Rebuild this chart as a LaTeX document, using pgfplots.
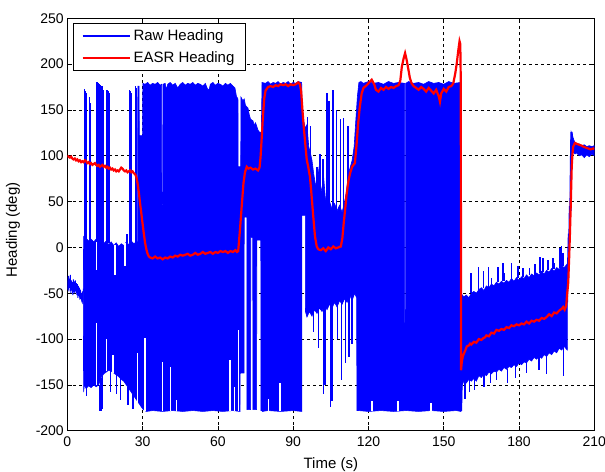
\documentclass[border=0pt]{standalone}
\usepackage{fontspec}
\setmainfont{Liberation Sans}
\usepackage{pgfplots}
\pgfplotsset{compat=1.18}
\begin{document}
\begin{tikzpicture}
\begin{axis}[
 scale only axis, width=527bp, height=412.4bp,
 xmin=0, xmax=210, ymin=-200, ymax=250,
 xtick={0,30,...,210}, ytick={-200,-150,...,250},
 grid=major, major grid style={black, dash pattern=on 3bp off 3bp, line width=0.7bp},
 axis line style={black, line width=0.8bp},
 tick align=inside, tick pos=both, major tick length=5bp, tick style={black, line width=0.7bp},
 /pgf/number format/assume math mode=true,
 ticklabel style={font=\fontsize{14bp}{16bp}\selectfont},
 xticklabel style={yshift=-3bp},
 label style={font=\fontsize{15bp}{18bp}\selectfont},
 xlabel={Time (s)}, ylabel={Heading (deg)},
 xlabel style={at={(axis description cs:0.5,0)}, anchor=north, yshift=-27bp, inner sep=0pt},
 ylabel style={at={(axis description cs:-0.103,0.487)}, anchor=center},
 legend style={at={(axis description cs:0.0114,0.988)}, anchor=north west, draw=black, line width=0.8bp, fill=white,
   font=\fontsize{15bp}{18bp}\selectfont, inner xsep=8bp, inner ysep=4bp, row sep=6bp, nodes={inner ysep=2bp, inner xsep=3bp}, cells={anchor=west}},
 legend image code/.code={\draw[#1] (0bp,0bp) -- (47bp,0bp);},
]
% region A noisy start
\addplot[blue, line width=1bp, forget plot] coordinates {(0,-36)(0.2,-46)(0.4,-31)(0.6,-48)(0.8,-34)(1.0,-44)(1.2,-30)(1.4,-50)(1.6,-36)(1.8,-47)(2.0,-38)(2.2,-52)(2.4,-35)(2.6,-49)(2.8,-37)(3.0,-50)(3.2,-36)(3.4,-48)(3.6,-39)(3.8,-52)(4.0,-40)(4.2,-55)(4.4,-42)(4.6,-53)(4.8,-44)(5.0,-57)(5.2,-46)(5.4,-56)(5.6,-50)(5.8,-60)(6.0,-48)(6.2,-62)(6.4,-45)};
% main raw heading envelope
\addplot[fill=blue, draw=blue, line width=0.6bp, forget plot] coordinates {
(6.4,-45)(6.5,12)(7.5,10)(8.5,7)(9.5,9)(10.5,6)(11.5,9)(12.5,5)(13.5,8)(14.5,4)(15.5,7)(16.5,3)(17.5,6)(18.5,2)(19.5,5)(20.5,1)(21.5,4)(22.5,2)(23.5,6)(24.5,3)(25.5,7)(26.5,4)(27.5,6)(28.0,6)(28.1,176)(28.6,176)(28.7,122)(30.0,122)(30.1,179)
(31,178)(32,180)(33,177)(34,179)(35,178)(36,180)(37,177)(37.6,178)(37.65,47)(38.05,47)(38.1,178)(39,179)(39.5,172)(40,178)(41,180)(42,177)(43,179)(44,174)(45,178)(46,180)(47,177)(48,179)(49,178)(50,180)(51,177)(52,179)(53,178)(54,176)(55,179)(56,172)(56.6,173)(57,178)(58,180)(59,177)(60,179)(61,178)(62,176)(63,179)(64,177)(65,179)(66,176)(66.8,174)(67.4,165)(68.0,162)(68.1,88)(69.1,88)(69.2,164)(70,160)(70.5,162)(71,155)(72,152)(72.5,145)(73,140)(74,138)(74.5,133)(75,136)(76,128)(76.5,126)(77.3,125)
(77.6,180)(79,179)(80,181)(81,178)(82,180)(83,179)(84,181)(85,178)(86,180)(87,179)(88,181)(89,178)(90,180)(91,179)(92,181)(93.4,180)
(93.5,136)(94.2,138)(94.8,130)(95.5,134)(96.2,110)(96.8,104)(97.5,95)(98.2,80)(98.8,70)(99.5,65)(100.2,85)(100.8,70)(101.5,60)(102.2,75)(102.8,55)(103.5,45)(104.5,50)(105.5,42)(106.5,48)(107.5,40)(108.5,46)(109.5,38)(110.5,50)(111.2,60)(112,80)(112.8,88)(113.5,95)(114.3,110)(115,140)(115.6,165)(116.2,180)
(117,181)(118,179)(120,181)(122,179)(124,180)(126,178)(128,181)(130,179)(132,180)(134.4,179)(134.45,-82)(134.8,-82)(134.85,179)(136,181)(138,179)(140,180)(142,178)(144,181)(146,179)(148,180)(150,178)(152,181)(154,179)(156.8,180)
(156.85,-50)(158,-54)(159,-52)(160,-55)(161,-50)(162,-48)(163,-50)(164,-46)(165,-44)(166,-47)(167,-42)(168,-44)(169,-40)(170,-42)(171,-38)(172,-40)(173,-37)(174,-39)(175,-36)(176,-38)(177,-34)(178,-37)(179,-33)(180,-36)(181,-32)(182,-34)(183,-30)(184,-33)(185,-29)(186,-31)(187,-28)(188,-30)(189,-26)(190,-29)(191,-25)(192,-27)(193,-23)(194,-26)(195,-22)(196,-24)(197,-20)(198,-22)(199.2,-18)
(199.3,-110)(199.2,-112)(198,-108)(197,-112)(196,-110)(195,-115)(194,-113)(193,-117)(192,-115)(191,-119)(190,-117)(189,-121)(188,-119)(187,-122)(186,-120)(185,-124)(184,-122)(183,-126)(182,-125)(181,-128)(180,-126)(179,-130)(178,-128)(177,-131)(176,-130)(175,-133)(174,-131)(173,-135)(172,-133)(171,-136)(170,-135)(169,-138)(168,-136)(167,-140)(166,-138)(165,-142)(164,-140)(163,-146)(162,-143)(161,-146)(160,-144)(159,-148)(158,-146)(157.4,-150)(157.2,-178)(156.8,-179)
(155,-178)(150,-179)(145,-178)(140,-179)(135,-178)(130,-179)(125,-178)(120,-179)(116,-178)(115.4,-178)
(115.3,-55)(114.5,-50)(113.5,-58)(112.5,-52)(111.5,-60)(110.5,-56)(109.5,-62)(108.5,-58)(107.5,-65)(106.5,-60)(105.5,-66)(104.5,-62)(103.5,-68)(102.5,-63)(101.5,-70)(100.5,-66)(99.5,-72)(98.5,-68)(97.5,-75)(96.5,-70)(95.5,-76)(94.9,-70)(94.85,35)(93.5,35)(93.45,-179)
(90,-178)(85,-179)(80,-178)(77.7,-179)
(77.6,-178)(77.15,-178)(77.1,8)(75.5,8)(75.45,-177)(73.95,-177)(73.9,11)(73.1,11)(73.05,-177)(71.6,-177)(71.55,33)(70.5,33)(70.45,-137)(68.9,-137)(68.8,-179)
(66,-178)(62,-179)(58,-178)(54,-179)(50,-178)(46,-179)(42,-178)(38,-179)(34,-178)(31.5,-179)(30.3,-177)
(29.5,-174)(28.5,-170)(27.5,-166)(26.5,-162)(25.5,-158)(24.5,-154)(23.5,-150)(22.5,-146)(21.5,-144)(20.5,-141)(19.5,-139)(18.5,-137)(17.5,-135)(16.5,-134)(15.5,-136)(14.5,-138)(13.5,-142)(12.5,-150)(11.5,-152)(10.5,-150)(9.5,-153)(8.5,-151)(7.5,-154)(6.8,-150)(6.5,-158)(6.4,-62)
} -- cycle;
% final segment band
\addplot[fill=blue, draw=blue, line width=0.6bp, forget plot] coordinates {(200.8,126)(201.5,120)(202.3,114)(203,112)(204,113)(205,111)(206,112)(207,110)(208,111)(209,110)(210,111)(210,100)(209,102)(208,99)(207,101)(206,98)(205,101)(204,100)(203,103)(202.3,102)(201.5,104)(200.8,110)} -- cycle;
\addplot[blue, line width=2.2bp, forget plot] coordinates {(199.1,-60)(199.3,-20)(199.5,-35)(199.7,-5)(199.9,15)(200.1,10)(200.3,45)(200.5,40)(200.7,90)(200.9,126)(201.2,118)};
% isolated spikes
\addplot[blue, line width=1.5bp, unbounded coords=jump, forget plot] coordinates {
(6.8,5)(6.8,173)(6.8,nan)(7.2,5)(7.2,171)(7.2,nan)(7.5,5)(7.5,168)(7.5,nan)(8.9,5)(8.9,164)(8.9,nan)(9.3,5)(9.3,158)(9.3,nan)
(11.8,5)(11.8,181)(11.8,nan)(12.1,5)(12.1,180)(12.1,nan)(12.4,5)(12.4,179)(12.4,nan)(12.7,5)(12.7,178)(12.7,nan)(13.0,5)(13.0,177)(13.0,nan)
(13.8,5)(13.8,176)(13.8,nan)(14.1,5)(14.1,175)(14.1,nan)(14.4,5)(14.4,172)(14.4,nan)(15.9,5)(15.9,172)(15.9,nan)(16.3,5)(16.3,171)(16.3,nan)(16.6,5)(16.6,169)(16.6,nan)
(23.8,5)(23.8,15)(23.8,nan)(24.8,5)(24.8,172)(24.8,nan)(25.1,5)(25.1,171)(25.1,nan)(25.4,5)(25.4,168)(25.4,nan)(27.1,5)(27.1,176)(27.1,nan)(27.6,5)(27.6,174)(27.6,nan)
(7.7,-150)(7.7,-162)(7.7,nan)(12.9,-150)(12.9,-178)(12.9,nan)(13.4,-142)(13.4,-178)(13.4,nan)(14.1,-140)(14.1,-176)(14.1,nan)
(17.2,-134)(17.2,-158)(17.2,nan)(19.6,-138)(19.6,-160)(19.6,nan)(21.2,-142)(21.2,-166)(21.2,nan)(24.1,-152)(24.1,-172)(24.1,nan)(26.1,-160)(26.1,-176)(26.1,nan)
(95.8,120)(95.8,142)(95.8,nan)(97.0,90)(97.0,132)(97.0,nan)(99.6,60)(99.6,88)(99.6,nan)(100.6,60)(100.6,102)(100.6,nan)(101.9,55)(101.9,96)(101.9,nan)
(103.5,40)(103.5,168)(103.5,nan)(104.3,40)(104.3,160)(104.3,nan)(105.9,40)(105.9,172)(105.9,nan)(107.3,40)(107.3,150)(107.3,nan)
(108.9,40)(108.9,140)(108.9,nan)(110.1,40)(110.1,141)(110.1,nan)(111.8,40)(111.8,132)(111.8,nan)
(98.1,-65)(98.1,-92)(98.1,nan)(100.1,-62)(100.1,-110)(100.1,nan)(102.0,-60)(102.0,-160)(102.0,nan)(102.7,-60)(102.7,-150)(102.7,nan)
(104.9,-60)(104.9,-174)(104.9,nan)(105.5,-60)(105.5,-168)(105.5,nan)(107.6,-62)(107.6,-100)(107.6,nan)(109.3,-60)(109.3,-145)(109.3,nan)
(110.8,-55)(110.8,-126)(110.8,nan)(112.3,-52)(112.3,-120)(112.3,nan)(113.5,-55)(113.5,-105)(113.5,nan)
(160.8,-50)(160.8,-28)(160.8,nan)(163.8,-48)(163.8,-21)(163.8,nan)(165.8,-44)(165.8,-26)(165.8,nan)(167.8,-44)(167.8,-21)(167.8,nan)
(169,-40)(169,-33)(169,nan)(171.7,-38)(171.7,-21)(171.7,nan)(173.7,-37)(173.7,-17)(173.7,nan)(174.3,-37)(174.3,-28)(174.3,nan)
(177.1,-34)(177.1,-17)(177.1,nan)(179.5,-33)(179.5,-20)(179.5,nan)(181.6,-32)(181.6,-22)(181.6,nan)(184.2,-30)(184.2,-22)(184.2,nan)(186.3,-30)(186.3,-18)(186.3,nan)(188.4,-28)(188.4,-10)(188.4,nan)
(189.6,-27)(189.6,-12)(189.6,nan)(191.5,-25)(191.5,-14)(191.5,nan)(193.6,-24)(193.6,-12)(193.6,nan)(194.1,-24)(194.1,-17)(194.1,nan)
(196.3,-22)(196.3,-1)(196.3,nan)(197.0,-21)(197.0,1)(197.0,nan)(197.6,-20)(197.6,-6)(197.6,nan)
(158.5,-146)(158.5,-165)(158.5,nan)(160.2,-144)(160.2,-158)(160.2,nan)(162.2,-143)(162.2,-156)(162.2,nan)(166,-138)(166,-152)(166,nan)
(168.7,-136)(168.7,-148)(168.7,nan)(171,-136)(171,-145)(171,nan)(175.5,-133)(175.5,-148)(175.5,nan)(178.5,-128)(178.5,-142)(178.5,nan)
(183,-126)(183,-137)(183,nan)(188,-119)(188,-134)(188,nan)(191,-119)(191,-138)(191,nan)(197.8,-110)(197.8,-140)
};
% gaps in the raw signal
\addplot[white, line width=1.5bp, unbounded coords=jump, forget plot] coordinates {
(11.7,-150)(11.7,-83)(11.7,nan)(15.6,-135)(15.6,-100)(15.6,nan)(18.3,-137)(18.3,-117)(18.3,nan)
(11.7,6)(11.7,-25)(11.7,nan)(19.0,3)(19.0,-30)(19.0,nan)(23.0,5)(23.0,-20)(23.0,nan)
(27.9,-170)(27.9,-115)(27.9,nan)(30.9,-179)(30.9,-99)(30.9,nan)(37.9,-179)(37.9,-125)(37.9,nan)(41.2,-179)(41.2,-130)(41.2,nan)
(43.6,-179)(43.6,-166)(43.6,nan)(64.9,-179)(64.9,-123)(64.9,nan)(66.6,-179)(66.6,-152)(66.6,nan)(68.2,-179)(68.2,-90)(68.2,nan)
(80.2,-179)(80.2,-165)(80.2,nan)(84.8,-179)(84.8,-148)(84.8,nan)(121.5,-179)(121.5,-168)(121.5,nan)(131.8,-179)(131.8,-168)(131.8,nan)(145,-179)(145,-170)
};
% EASR heading
\addplot[red, line width=2.2bp, forget plot] coordinates {
(0,100)(0.5,99)(1,98)(1.5,99)(2,97)(2.5,96)(3,97)(3.5,95)(4,96)(4.5,94)(5,95)(5.5,93)(6,94)(6.5,93)(7,95)(7.5,94)(8,92)(8.5,93)(9,91)(9.5,92)(10,90)(10.5,91)(11,92)(11.5,90)(12,89)(12.5,90)(13,88)(13.5,89)(14,90)(14.5,88)(15,89)(15.5,87)(16,88)(16.5,86)(17,87)(17.5,85)(18,86)(18.5,84)(19,85)(19.5,83)(20,84)(20.5,83)(21,85)(21.5,87)(22,86)(22.5,84)(23,83)(23.5,84)(24,82)(24.5,83)(25,84)(25.5,82)(26,83)(26.5,81)(27,80)(27.5,77)(28,70)(28.5,60)(29,48)(29.5,37)(30,26)(30.5,15)(31,5)(31.5,-2)(32,-7)(32.5,-10)(33,-11)(34,-12)(35,-10)(36,-12)(37,-11)(38,-13)(39,-11)(40,-12)(41,-10)(42,-11)(43,-9)(44,-10)(45,-8)(46,-9)(47,-8)(48,-7)(49,-9)(50,-8)(51,-6)(52,-8)(53,-7)(54,-5)(55,-7)(56,-6)(57,-5)(58,-7)(59,-5)(60,-6)(61,-4)(62,-5)(63,-4)(64,-6)(65,-4)(66,-5)(67,-3)(67.6,-5)(68.1,-4)(68.8,19)(69.5,45)(70.2,70)(70.8,82)(71.5,88)(72.2,86)(73,87)(74,85)(75,86)(76,84)(76.6,87)(77,98)(77.5,121)(78,145)(78.5,163)(79,171)(80,175)(81,176)(82,175)(83,177)(84,176)(85,178)(86,177)(87,178)(88,176)(89,178)(90,177)(91,178)(92,180)(92.7,178)(93.2,170)(93.7,150)(94.2,132)(94.8,114)(95.4,96)(96,88)(96.7,77)(97.3,58)(98,34)(98.7,12)(99.4,1)(100,-2)(101,-3)(102,-1)(103,-4)(104,0)(105,-2)(106,1)(107,-1)(108,0)(109,1)(109.6,10)(110.2,28)(110.7,41)(111.3,58)(112,72)(112.7,81)(113.5,88)(114.6,92)(115.2,110)(115.8,132)(116.5,152)(117.3,168)(118,174)(119.3,177)(120.3,180)(121.3,183)(122.3,178)(123,172)(124,170)(125,174)(126,172)(127,175)(128,173)(129,175)(130,174)(131,176)(132,177)(132.7,182)(133.3,197)(134,206)(134.6,212)(135.2,205)(135.8,196)(136.5,185)(137.2,179)(138,176)(139,174)(140,172)(141,175)(142,173)(143,170)(144,174)(145,171)(146,168)(147,172)(148,165)(148.5,159)(149,168)(150,173)(151,170)(152,175)(153,176)(153.8,179)(154.6,190)(155.2,201)(155.8,215)(156.3,225)(156.6,222)(156.8,180)(156.9,-134)(157.2,-125)(157.6,-119)(158,-116)(158.5,-113)(159.2,-108)(160,-107)(160.5,-105)(161,-106)(162,-103)(163,-104)(164,-100)(165,-101)(165.8,-99)(166.5,-98)(167,-96)(168,-97)(169,-93)(170,-94)(171,-90)(172,-91)(173,-89)(174,-90)(175,-87)(176,-88)(177,-85)(178,-86)(179,-84)(180,-85)(181,-83)(182,-84)(183,-81)(184,-83)(185,-80)(186,-81)(187,-79)(188,-80)(189,-77)(190,-78)(191,-76)(192,-73)(193,-75)(194,-71)(195,-72)(196,-69)(197,-67)(197.6,-65)(198.2,-68)(198.8,-64)(199.2,-50)(199.6,-39)(200,-10)(200.3,16)(200.7,55)(201,88)(201.3,102)(201.6,110)(202.3,114)(203,113)(204,112)(205,111)(205.6,110)(206.5,109)(207.5,108)(208.5,107)(209.6,108)(210,107)
};
\addlegendimage{blue, line width=1.8bp}
\addlegendentry{Raw Heading}
\addlegendimage{red, line width=1.8bp}
\addlegendentry{EASR Heading}
\end{axis}
\pgfresetboundingbox
\path[use as bounding box] (-67.3bp,-41.3bp) rectangle (537.7bp,430.7bp);
\end{tikzpicture}
\end{document}
